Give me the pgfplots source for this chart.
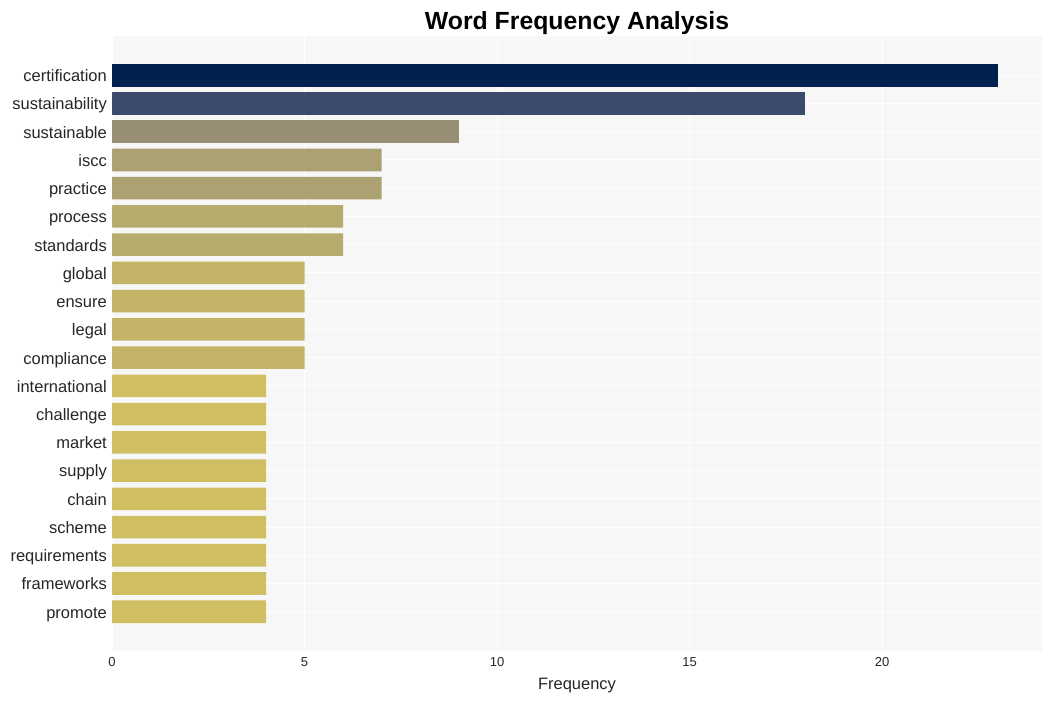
\documentclass[border=0pt]{standalone}
\usepackage{pgfplots}
\pgfplotsset{compat=1.18}
\usepackage{fontspec}
\setmainfont{Liberation Sans}
\definecolor{bg}{HTML}{F7F7F7}
\definecolor{c1}{HTML}{00204E}
\definecolor{c2}{HTML}{3C4A6B}
\definecolor{c3}{HTML}{978E74}
\definecolor{c4}{HTML}{ACA171}
\definecolor{c5}{HTML}{B8AB6E}
\definecolor{c6}{HTML}{C4B467}
\definecolor{c7}{HTML}{D0BF62}
\definecolor{txt}{HTML}{262626}
\begin{document}
\begin{tikzpicture}
\path[use as bounding box] (0,0) rectangle (1052pt,701pt);
\begin{axis}[
  at={(112pt,50pt)}, anchor=south west,
  scale only axis, width=930pt, height=615pt,
  xmin=0, xmax=24.15,
  ymin=-1.39, ymax=20.39, y dir=reverse,
  axis background/.style={fill=bg},
  axis line style={draw=none},
  tick style={draw=none},
  major tick length=0pt,
  grid=major, grid style={white, line width=1pt},
  xtick={0,5,10,15,20},
  ytick={0,...,19},
  yticklabels={certification,sustainability,sustainable,iscc,practice,process,standards,global,ensure,legal,compliance,international,challenge,market,supply,chain,scheme,requirements,frameworks,promote},
  yticklabel style={font=\fontsize{16.5}{19}\selectfont, text=txt, inner sep=0pt, anchor=east, text height=12pt, text depth=3.2pt, xshift=-5pt, yshift=-2pt},
  xticklabel style={font=\fontsize{13}{15}\selectfont, text=txt, inner sep=0pt, anchor=north, yshift=-6pt},
  /pgf/number format/assume math mode=true,
  xlabel={Frequency},
  xlabel style={font=\fontsize{16.5}{19}\selectfont, text=txt, inner sep=0pt, yshift=-12pt},
  title={Word Frequency Analysis},
  title style={font=\fontsize{24.8}{28}\selectfont\bfseries, inner sep=0pt, yshift=-5pt},
  xbar, bar width=0.8, bar shift=0pt,
  clip=false,
]
\addplot[fill=c1, draw=none] coordinates {(23,0)};
\addplot[fill=c2, draw=none] coordinates {(18,1)};
\addplot[fill=c3, draw=none] coordinates {(9,2)};
\addplot[fill=c4, draw=none] coordinates {(7,3) (7,4)};
\addplot[fill=c5, draw=none] coordinates {(6,5) (6,6)};
\addplot[fill=c6, draw=none] coordinates {(5,7) (5,8) (5,9) (5,10)};
\addplot[fill=c7, draw=none] coordinates {(4,11) (4,12) (4,13) (4,14) (4,15) (4,16) (4,17) (4,18) (4,19)};
\end{axis}
\end{tikzpicture}
\end{document}
